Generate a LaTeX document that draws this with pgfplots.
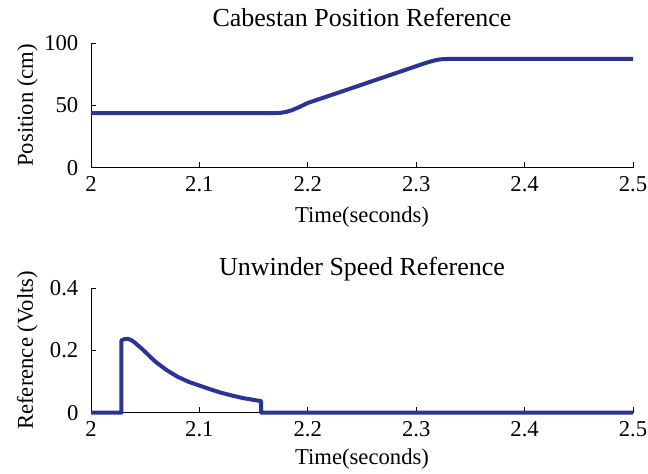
\documentclass[border=0pt]{standalone}
\usepackage{pgfplots}
\pgfplotsset{compat=1.18}
\usepackage{fontspec}
\setmainfont{Liberation Serif}
\definecolor{lc}{RGB}{42,52,148}
\pgfplotsset{
  mystyle/.style={
    scale only axis,
    width=406.5pt,
    height=93.5pt,
    xmin=2, xmax=2.5,
    axis x line*=bottom,
    axis y line*=left,
    axis line style={black, line width=0.7pt},
    tick align=inside,
    major tick length=4pt,
    tick style={black, line width=0.7pt},
    xtick={2,2.1,2.2,2.3,2.4,2.5},
    xticklabels={2,2.1,2.2,2.3,2.4,2.5},
    /pgf/number format/assume math mode=true,
    tick label style={font=\rmfamily\fontsize{17}{20}\selectfont, inner sep=0pt},
    xticklabel style={anchor=base, yshift=-17.8pt},
    yticklabel style={anchor=east, xshift=-9.3pt},
    every axis y label/.style={at={(rel axis cs:0,0.5)}, xshift=-43.5pt, rotate=90, anchor=base,
      font=\fontsize{17}{20}\selectfont, inner sep=0pt},
    every axis x label/.style={at={(rel axis cs:0.5,0)}, anchor=base,
      font=\fontsize{17}{20}\selectfont, inner sep=0pt},
    every axis title/.style={at={(rel axis cs:0.5,1)}, anchor=base,
      font=\fontsize{19.5}{22}\selectfont, inner sep=0pt},
    xlabel={Time(seconds)},
    clip=false,
  }
}
\begin{document}
\begin{tikzpicture}
\begin{axis}[mystyle, name=top, at={(0pt,0pt)}, anchor=south west,
  ymin=0, ymax=100, ytick={0,50,100}, yticklabels={0,50,100},
  ylabel={Position (cm)},
  title={Cabestan Position Reference},
  title style={yshift=12pt},
  xlabel style={yshift=-41pt}]
\addplot[lc, line width=3pt, line join=round] coordinates {
(2,43.8)(2.17,43.8)(2.175,44.0)(2.18,44.7)(2.185,46.0)(2.19,47.8)(2.195,49.8)(2.2,51.9)
(2.25,66.6)(2.3,81.4)(2.305,82.9)(2.31,84.3)(2.315,85.6)(2.32,86.6)(2.325,87.1)(2.33,87.2)(2.5,87.2)};
\end{axis}
\begin{axis}[mystyle, at={(0pt,-183.75pt)}, anchor=south west,
  ymin=0, ymax=0.4, ytick={0,0.2,0.4}, yticklabels={0,0.2,0.4},
  ylabel={Reference (Volts)},
  title={Unwinder Speed Reference},
  title style={yshift=9.5pt},
  xlabel style={yshift=-38.5pt}]
\addplot[lc, line width=3pt, line join=round] coordinates {
(2,0)(2.028,0)(2.028,0.232)(2.031,0.236)(2.034,0.237)(2.037,0.233)(2.04,0.226)(2.045,0.211)(2.05,0.195)(2.055,0.178)(2.06,0.162)(2.07,0.136)(2.08,0.115)(2.09,0.099)
(2.1,0.087)(2.11,0.075)(2.12,0.064)(2.13,0.055)(2.14,0.047)(2.15,0.041)(2.157,0.037)(2.157,0)(2.5,0)};
\end{axis}
\pgfresetboundingbox
\path (-68.25pt,-229.5pt) rectangle (417.75pt,125.75pt);
\end{tikzpicture}
\end{document}
